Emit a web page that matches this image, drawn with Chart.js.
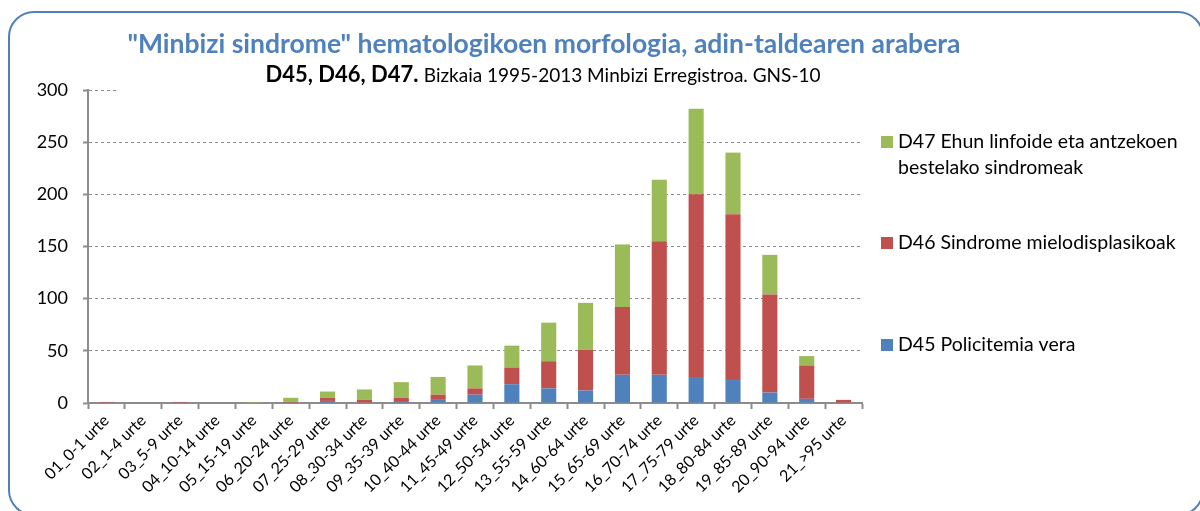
<!DOCTYPE html>
<html>
<head>
<meta charset="utf-8">
<script src="https://cdn.jsdelivr.net/npm/chart.js@4.4.1/dist/chart.umd.min.js"></script>
<style>
  html, body { margin: 0; padding: 0; background: #fff; }
  #wrap { position: relative; width: 1200px; height: 511px; overflow: hidden; }
  #frame {
    position: absolute; left: 8px; top: 11px; width: 1196px; height: 505px;
    border: 2px solid #4f81bd; border-radius: 26px; box-sizing: border-box;
  }
  canvas { position: absolute; left: 0; top: 0; }
</style>
</head>
<body>
<div id="wrap">
  <div id="frame"></div>
  <canvas id="chartEl" width="1200" height="511"></canvas>
</div>
<script>
/************ DATA ************/
const TITLE = '"Minbizi sindrome" hematologikoen morfologia, adin-taldearen arabera';
const SUBTITLE_BOLD = "D45, D46, D47.";
const SUBTITLE_TEXT = "Bizkaia 1995-2013 Minbizi Erregistroa. GNS-10";

const ageGroups = [
    "01_0-1 urte", "02_1-4 urte", "03_5-9 urte", "04_10-14 urte", "05_15-19 urte",
    "06_20-24 urte", "07_25-29 urte", "08_30-34 urte", "09_35-39 urte", "10_40-44 urte",
    "11_45-49 urte", "12_50-54 urte", "13_55-59 urte", "14_60-64 urte", "15_65-69 urte",
    "16_70-74 urte", "17_75-79 urte", "18_80-84 urte", "19_85-89 urte", "20_90-94 urte",
    "21_>95 urte"
];

const d45 = [0, 0, 0, 0, 0, 0, 2, 0, 1, 3, 8, 18, 14, 12, 27, 27, 25, 22, 10, 4, 0];
const d46 = [1, 0, 1, 0, 0, 1, 3, 3, 4, 5, 6, 16, 26, 39, 65, 128, 175, 159, 94, 32, 3];
const d47 = [0, 0, 0, 0, 1, 4, 6, 10, 15, 17, 22, 21, 37, 45, 60, 59, 82, 59, 38, 9, 0];

const seriesLabels = [
    "D45 Policitemia vera",
    "D46 Sindrome mielodisplasikoak",
    "D47 Ehun linfoide eta antzekoen bestelako sindromeak"
];
const seriesColors = ["#4f81bd", "#c0504d", "#9bbb59"];

const yTicks = [0, 50, 100, 150, 200, 250, 300];

/************ STYLE ************/
const FONT = "Lato, 'Noto Sans', sans-serif";
const AXIS_GREY = "#8c8c8c";

/************ HEADER + LEGEND ************/
function wrapText(ctx, text, maxW) {
    const words = text.split(" ");
    const lines = [];
    let line = "";
    words.forEach(w => {
        const test = line ? line + " " + w : w;
        if (ctx.measureText(test).width > maxW && line) {
            lines.push(line);
            line = w;
        } else line = test;
    });
    if (line) lines.push(line);
    return lines;
}

const headerPlugin = {
    id: "header",
    afterDraw(chart) {
        const ctx = chart.ctx;
        ctx.save();

        // white title box hides most of the 300 gridline, like the original
        ctx.fillStyle = "#fff";
        ctx.fillRect(118, 58, 760, 36);

        ctx.textBaseline = "middle";
        ctx.textAlign = "center";
        ctx.fillStyle = "#4f81bd";
        ctx.font = "bold 26.5px " + FONT;
        ctx.fillText(TITLE, 544, 44);

        ctx.font = "bold 22px " + FONT;
        const wb = ctx.measureText(SUBTITLE_BOLD + " ").width;
        ctx.font = "19px " + FONT;
        const wn = ctx.measureText(SUBTITLE_TEXT).width;
        let x = 543 - (wb + wn) / 2;
        ctx.textAlign = "left";
        ctx.fillStyle = "#000";
        ctx.font = "bold 22px " + FONT;
        ctx.fillText(SUBTITLE_BOLD, x, 75);
        ctx.font = "19px " + FONT;
        ctx.fillText(SUBTITLE_TEXT, x + wb, 76);

        // legend, top to bottom in reverse stacking order
        ctx.font = "19.5px " + FONT;
        const ys = [142, 243, 345];
        chart.data.datasets.slice().reverse().forEach((ds, i) => {
            const y = ys[i];
            ctx.fillStyle = ds.backgroundColor;
            ctx.fillRect(881, y - 6, 12, 12);
            ctx.fillStyle = "#000";
            wrapText(ctx, ds.label, 300).forEach((ln, k) => {
                ctx.fillText(ln, 898, y + k * 26);
            });
        });
        ctx.restore();
    }
};

/************ CHART ************/
const chart = new Chart(chartEl, {
    type: "bar",
    data: {
        labels: ageGroups,
        datasets: [
            { label: seriesLabels[0], data: d45, backgroundColor: seriesColors[0] },
            { label: seriesLabels[1], data: d46, backgroundColor: seriesColors[1] },
            { label: seriesLabels[2], data: d47, backgroundColor: seriesColors[2] }
        ]
    },
    options: {
        responsive: false,
        animation: false,
        layout: { padding: { top: 90, right: 338, left: 0, bottom: 0 } },
        datasets: { bar: { barPercentage: 0.41, categoryPercentage: 1 } },
        plugins: {
            legend: { display: false },
            title: { display: false },
            tooltip: { enabled: false }
        },
        scales: {
            x: {
                stacked: true,
                border: { color: AXIS_GREY, width: 2 },
                grid: { drawOnChartArea: false, tickLength: 6, tickColor: AXIS_GREY, tickWidth: 2 },
                ticks: {
                    autoSkip: false, maxRotation: 45, minRotation: 45, padding: 2,
                    color: "#000", font: { family: FONT, size: 16 }
                },
                afterFit(s) { s.height = 108; }
            },
            y: {
                stacked: true,
                min: 0, max: 300,
                border: { color: AXIS_GREY, width: 2, dash: [3, 3] },
                grid: {
                    color: AXIS_GREY, lineWidth: 1,
                    tickLength: 5, tickColor: AXIS_GREY, tickWidth: 2, tickBorderDash: []
                },
                afterBuildTicks(s) { s.ticks = yTicks.map(v => ({ value: v })); },
                ticks: { padding: 15, color: "#000", font: { family: FONT, size: 18 } },
                afterFit(s) { s.width = 88; }
            }
        }
    },
    plugins: [headerPlugin]
});
</script>
</body>
</html>
